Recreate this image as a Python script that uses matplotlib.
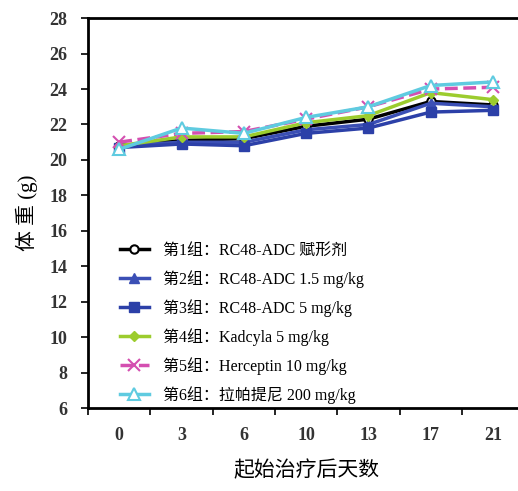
import numpy as np
import matplotlib.pyplot as plt

plt.rcParams['font.family'] = ['Liberation Serif', 'Noto Sans CJK SC']

days = ['0', '3', '6', '10', '13', '17', '21']
labels = ['第1组：RC48-ADC 赋形剂',
          '第2组：RC48-ADC 1.5 mg/kg',
          '第3组：RC48-ADC 5 mg/kg',
          '第4组：Kadcyla 5 mg/kg',
          '第5组：Herceptin 10 mg/kg',
          '第6组：拉帕提尼 200 mg/kg']
g1 = [20.8, 21.1, 21.2, 21.9, 22.3, 23.3, 23.1]
g2 = [20.8, 21.0, 21.0, 21.7, 22.0, 23.2, 23.0]
g3 = [20.7, 20.9, 20.8, 21.5, 21.8, 22.7, 22.8]
g4 = [20.8, 21.3, 21.3, 22.1, 22.5, 23.8, 23.4]
g5 = [21.0, 21.5, 21.6, 22.3, 23.0, 24.0, 24.1]
g6 = [20.6, 21.8, 21.5, 22.4, 23.0, 24.2, 24.4]

fig = plt.figure(figsize=(5.18, 4.91), dpi=100)
ax = fig.add_axes([0.170, 0.169, 0.842, 0.794])

x = np.arange(len(days))
ax.plot(x, g1, color='black', lw=2.5, marker='o', ms=6, mfc='white', mec='black', mew=1.5, label=labels[0])
ax.plot(x, g2, color='#3b4fb5', lw=2.5, marker='^', ms=7, label=labels[1])
ax.plot(x, g3, color='#2c40a8', lw=2.5, marker='s', ms=7, label=labels[2])
ax.plot(x, g4, color='#9ccc2e', lw=2.5, marker='D', ms=5, label=labels[3])
ax.plot(x, g5, color='#d44fb0', lw=2.5, ls='--', marker='x', ms=8, mew=1.5, label=labels[4])
ax.plot(x, g6, color='#5fcbe0', lw=2.5, marker='^', ms=9, mfc='white', mec='#5fcbe0', mew=1.5, label=labels[5])

ax.set_xlim(-0.5, 6.5)
ax.set_ylim(6, 28)
ax.set_yticks(np.arange(6, 29, 2))
ax.set_xticks(x)
ax.set_xticklabels(days)
ax.set_xticks(np.arange(-0.5, 7, 1), minor=True)
ax.tick_params(axis='x', which='major', length=0, pad=14)
ax.tick_params(axis='x', which='minor', length=5, width=1.2, direction='out')
ax.tick_params(axis='y', length=5, width=1.2, direction='out', pad=10)
for t in ax.get_xticklabels() + ax.get_yticklabels():
    t.set_fontsize(13)
    t.set_fontweight('bold')
    t.set_color('#333333')

for s in ax.spines.values():
    s.set_linewidth(2)

ax.set_xlabel('起始治疗后天数', fontsize=15, labelpad=12)
ax.set_ylabel('体 重 (g)', fontsize=15, labelpad=8)

leg = ax.legend(loc='upper left', bbox_to_anchor=(0.04, 0.46), frameon=False,
                fontsize=11.5, handlelength=1.8, labelspacing=0.7, handletextpad=0.9)

fig.savefig('out.png', dpi=100)
